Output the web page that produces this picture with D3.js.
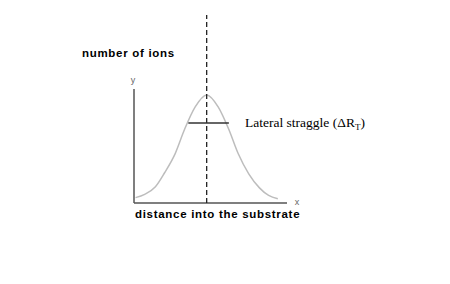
<!DOCTYPE html>
<html>
<head>
<meta charset="utf-8">
<script src="https://cdn.jsdelivr.net/npm/d3@7"></script>
<style>
  html, body { margin: 0; padding: 0; background: #fff; }
  svg { display: block; }
</style>
</head>
<body>
<svg id="chart" width="450" height="284"></svg>
<script>
// Profile of ion distribution (arbitrary units)
const curveX = [0.1, 0.7, 1.4, 2.0, 2.7, 3.3, 4.0, 4.75, 5.5, 6.2, 6.8, 7.5, 8.2, 8.8, 9.4];
const curveY = [0.05, 0.08, 0.15, 0.28, 0.46, 0.68, 0.89, 1.0, 0.89, 0.68, 0.46, 0.27, 0.14, 0.07, 0.04];
const peakX = [4.75];
const straggleX = [3.55, 6.2];
const straggleY = [0.74];
const axisLabels = ["y", "x"];
const titles = ["number of ions", "distance into the substrate"];
const annotation = ["Lateral straggle (ΔR", "T", ")"];

const svg = d3.select("#chart");
const x = d3.scaleLinear().domain([0, 10]).range([134, 287]);
const y = d3.scaleLinear().domain([0, 1]).range([203, 95]);

// axes
svg.append("line")
  .attr("x1", x(0)).attr("x2", x(0))
  .attr("y1", y(0)).attr("y2", y(1.055))
  .attr("stroke", "#555").attr("stroke-width", 1.5);
svg.append("line")
  .attr("x1", x(0)).attr("x2", x(10))
  .attr("y1", y(0)).attr("y2", y(0))
  .attr("stroke", "#555").attr("stroke-width", 1.5);

svg.append("text").text(axisLabels[0])
  .attr("x", x(0) - 1).attr("y", y(1.055) - 6)
  .attr("text-anchor", "middle")
  .attr("font-family", "Liberation Sans, Arial, sans-serif")
  .attr("font-size", 9).attr("fill", "#666");
svg.append("text").text(axisLabels[1])
  .attr("x", x(10) + 10).attr("y", y(0) + 2)
  .attr("text-anchor", "middle")
  .attr("font-family", "Liberation Sans, Arial, sans-serif")
  .attr("font-size", 9).attr("fill", "#666");

// curve
const pts = curveX.map((d, i) => [d, curveY[i]]);
const line = d3.line().x(d => x(d[0])).y(d => y(d[1])).curve(d3.curveMonotoneX);
svg.append("path").datum(pts)
  .attr("d", line)
  .attr("fill", "none")
  .attr("stroke", "#bdbdbd")
  .attr("stroke-width", 1.5);

// dashed vertical line at the peak
svg.append("line")
  .attr("x1", x(peakX[0])).attr("x2", x(peakX[0]))
  .attr("y1", y(0)).attr("y2", y(1.74))
  .attr("stroke", "#222").attr("stroke-width", 1.3)
  .attr("stroke-dasharray", "5,3");

// straggle bar
svg.append("line")
  .attr("x1", x(straggleX[0])).attr("x2", x(straggleX[1]))
  .attr("y1", y(straggleY[0])).attr("y2", y(straggleY[0]))
  .attr("stroke", "#333").attr("stroke-width", 1.5);

// annotation
const ann = svg.append("text")
  .attr("x", 245).attr("y", y(straggleY[0]) + 4)
  .attr("font-family", "Liberation Serif, Times New Roman, serif")
  .attr("font-size", 13.5).attr("fill", "#000");
ann.append("tspan").text(annotation[0]);
ann.append("tspan").text(annotation[1]).attr("font-size", 9).attr("dy", 3);
ann.append("tspan").text(annotation[2]).attr("dy", -3);

// titles
svg.append("text").text(titles[0])
  .attr("x", 82).attr("y", 57)
  .attr("font-family", "Liberation Sans, Arial, sans-serif")
  .attr("letter-spacing", 0.7)
  .attr("font-weight", "bold").attr("font-size", 11.5).attr("fill", "#000");
svg.append("text").text(titles[1])
  .attr("x", 135).attr("y", 218)
  .attr("font-family", "Liberation Sans, Arial, sans-serif")
  .attr("letter-spacing", 0.7)
  .attr("font-weight", "bold").attr("font-size", 11.5).attr("fill", "#000");
</script>
</body>
</html>
